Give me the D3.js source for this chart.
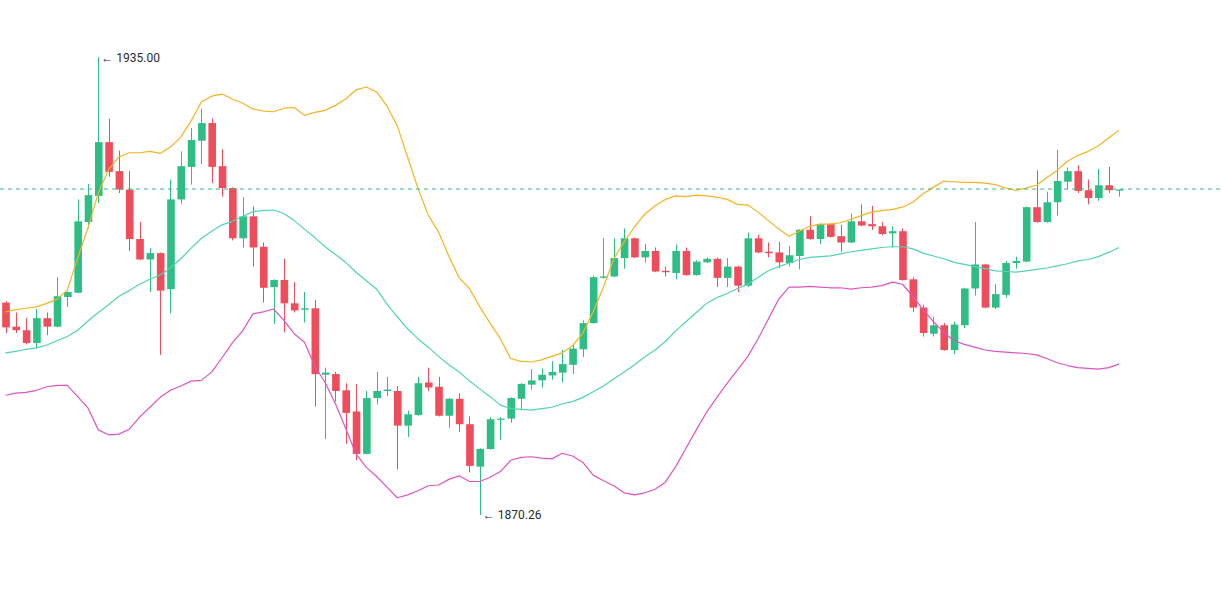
<!DOCTYPE html>
<html>
<head>
<meta charset="utf-8">
<script src="https://cdn.jsdelivr.net/npm/d3@7"></script>
<style>
  body { margin: 0; background: #fff; }
  .price-label { font-family: Roboto, "Noto Sans", sans-serif; font-size: 12px; fill: #2b2b2b; }
</style>
</head>
<body>
<div id="chart"></div>
<script>
var opens = [1900.3,1896.9,1896.4,1894.6,1898.1,1896.9,1901.1,1901.7,1911.7,1915.4,
  1923.0,1918.9,1916.3,1909.3,1906.4,1907.3,1902.2,1914.9,1919.5,1923.2,
  1925.7,1919.6,1916.5,1909.4,1912.5,1908.2,1902.5,1903.5,1900.2,1899.3,
  1899.5,1890.1,1890.2,1887.9,1884.9,1878.9,1886.8,1887.8,1887.8,1882.9,
  1884.4,1889.0,1888.4,1884.3,1886.7,1883.1,1877.1,1879.6,1883.8,1883.9,
  1886.7,1888.7,1889.3,1890.0,1890.4,1891.5,1893.7,1897.4,1903.8,1904.0,
  1906.6,1909.4,1906.7,1907.6,1904.8,1904.5,1907.6,1904.2,1906.0,1906.5,
  1903.8,1905.4,1902.7,1909.4,1907.5,1907.4,1905.9,1906.9,1910.6,1909.3,
  1911.4,1909.7,1908.8,1911.8,1911.4,1911.1,1910.1,1910.4,1903.6,1899.6,
  1895.9,1897.1,1893.6,1897.1,1902.3,1905.7,1899.6,1901.4,1905.9,1906.1,
  1913.8,1911.7,1914.5,1917.4,1918.9,1916.2,1915.1,1916.9,1916.2];

var highs = [1900.5,1898.9,1898.1,1899.4,1898.9,1903.9,1901.9,1914.9,1917.1,1935.0,
  1926.3,1921.8,1918.9,1911.7,1908.0,1907.4,1917.7,1921.7,1925.0,1927.7,
  1926.4,1922.0,1916.6,1915.2,1913.9,1908.8,1903.6,1906.5,1903.2,1901.8,
  1900.7,1891.1,1890.5,1888.9,1888.8,1887.8,1890.5,1889.8,1888.5,1885.0,
  1889.8,1891.1,1889.8,1886.8,1887.5,1884.2,1879.7,1884.1,1884.1,1886.9,
  1888.9,1890.9,1891.0,1892.0,1893.6,1894.3,1897.8,1904.1,1909.4,1909.4,
  1910.8,1909.5,1908.6,1908.1,1905.4,1908.5,1908.1,1906.3,1906.7,1906.7,
  1906.6,1905.5,1910.2,1909.9,1908.8,1908.9,1908.3,1910.7,1912.5,1911.5,
  1911.5,1911.3,1912.9,1914.2,1914.0,1911.7,1911.1,1910.8,1903.9,1900.0,
  1898.3,1897.4,1897.6,1902.4,1911.7,1905.8,1902.9,1906.2,1906.8,1913.9,
  1919.0,1916.0,1921.9,1919.4,1919.7,1917.7,1919.2,1919.5,1916.3];

var lows = [1896.0,1896.0,1894.4,1893.8,1895.7,1896.8,1899.7,1901.6,1910.8,1914.4,
  1918.1,1915.8,1907.6,1906.3,1901.8,1892.9,1898.8,1914.3,1917.0,1919.9,
  1917.2,1915.3,1909.1,1908.1,1905.4,1900.3,1897.3,1896.1,1898.9,1897.5,
  1885.6,1881.0,1886.3,1880.3,1878.0,1878.8,1885.9,1887.1,1876.7,1881.3,
  1884.3,1887.8,1884.2,1882.6,1882.0,1876.3,1870.26,1879.5,1880.9,1883.3,
  1885.1,1888.0,1888.3,1889.4,1889.0,1890.2,1892.6,1897.3,1903.7,1903.9,
  1905.1,1906.6,1906.0,1904.6,1904.0,1903.6,1904.1,1904.1,1905.9,1902.5,
  1902.5,1901.8,1902.5,1907.3,1906.7,1905.2,1905.4,1905.0,1909.2,1908.6,
  1909.5,1907.5,1908.7,1911.1,1910.6,1909.8,1908.1,1903.4,1899.0,1895.5,
  1895.5,1893.5,1893.0,1896.7,1901.3,1899.5,1899.4,1901.0,1905.1,1906.0,
  1911.6,1911.6,1912.6,1916.3,1915.8,1914.2,1914.7,1915.8,1915.3];

var closes = [1896.8,1896.4,1894.6,1898.1,1896.9,1901.2,1901.8,1911.8,1915.5,1923.0,
  1918.8,1916.3,1909.3,1906.4,1907.3,1902.0,1914.9,1919.6,1923.3,1925.7,
  1919.5,1916.5,1909.4,1912.5,1908.1,1902.4,1903.5,1900.2,1899.2,1899.5,
  1890.2,1890.4,1887.8,1884.7,1878.9,1886.8,1887.8,1888.0,1882.9,1884.5,
  1888.9,1888.3,1884.3,1886.7,1883.1,1877.2,1879.6,1883.8,1883.9,1886.8,
  1888.8,1889.3,1890.1,1890.5,1891.6,1893.8,1897.4,1903.9,1904.0,1906.6,
  1909.4,1906.7,1907.6,1904.7,1904.6,1907.6,1904.2,1906.1,1906.5,1903.8,
  1905.4,1902.7,1909.4,1907.4,1907.3,1906.0,1907.0,1910.6,1909.3,1911.4,
  1909.6,1908.8,1911.8,1911.2,1911.1,1910.0,1910.4,1903.5,1899.6,1896.0,
  1897.1,1893.6,1897.2,1902.3,1905.7,1899.6,1901.5,1905.9,1906.2,1913.8,
  1911.7,1914.5,1917.5,1918.9,1916.1,1915.1,1916.9,1916.2,1916.3];

// Bollinger bands (upper / middle / lower)
var bollUpper = [1899.0,1899.3,1899.5,1899.7,1900.2,1900.8,1902.1,1906.6,1910.9,1915.8,
  1919.1,1920.9,1921.5,1921.5,1921.7,1921.4,1922.3,1923.7,1926.0,1928.7,
  1929.5,1929.8,1929.1,1928.5,1927.7,1927.4,1927.3,1927.8,1927.9,1926.8,
  1927.2,1927.5,1928.2,1929.1,1930.4,1930.8,1930.1,1928.1,1925.3,1920.9,
  1916.5,1912.7,1910.3,1906.9,1903.8,1902.3,1899.7,1897.4,1895.2,1892.4,
  1892.0,1891.9,1892.2,1892.7,1893.2,1894.2,1896.0,1899.0,1902.5,1906.5,
  1908.9,1911.0,1912.8,1914.0,1914.9,1915.4,1915.3,1915.5,1915.4,1915.2,
  1914.9,1914.2,1914.1,1913.1,1911.9,1910.7,1909.7,1910.4,1911.1,1911.4,
  1911.4,1911.6,1912.1,1912.6,1913.1,1913.3,1913.5,1913.8,1914.5,1915.7,
  1916.6,1917.5,1917.4,1917.3,1917.3,1917.2,1917.0,1916.5,1916.2,1916.5,
  1916.9,1918.0,1919.0,1920.3,1921.1,1921.7,1922.5,1923.6,1924.7];

var bollMiddle = [1893.2,1893.4,1893.7,1893.9,1894.3,1894.9,1895.5,1896.4,1897.7,1898.9,
  1900.0,1901.2,1902.0,1902.9,1903.6,1904.2,1905.2,1906.5,1908.0,1909.4,
  1910.4,1911.3,1911.8,1912.5,1913.2,1913.3,1913.4,1912.9,1911.9,1910.7,
  1909.5,1908.2,1907.1,1906.0,1904.6,1903.4,1902.2,1900.1,1898.3,1896.6,
  1895.2,1894.0,1892.7,1891.5,1890.5,1889.2,1888.1,1887.0,1885.8,1885.3,
  1885.2,1885.1,1885.3,1885.5,1886.0,1886.3,1886.9,1887.7,1888.5,1889.5,
  1890.5,1891.5,1892.6,1893.6,1894.8,1896.3,1897.6,1898.9,1900.2,1901.0,
  1901.6,1902.3,1902.9,1903.9,1904.8,1905.4,1905.9,1906.4,1906.7,1906.8,
  1906.9,1907.2,1907.5,1907.7,1907.9,1908.1,1908.2,1908.2,1907.9,1907.3,
  1906.9,1906.5,1906.0,1905.7,1905.4,1905.1,1904.8,1904.7,1904.6,1904.8,
  1905.0,1905.2,1905.5,1905.8,1906.2,1906.4,1906.8,1907.4,1908.1];

var bollLower = [1887.2,1887.5,1887.6,1887.9,1888.4,1888.6,1888.6,1887.0,1885.4,1882.3,
  1881.6,1881.7,1882.4,1884.1,1885.5,1886.9,1887.9,1888.5,1889.2,1889.3,
  1890.5,1892.5,1894.6,1896.3,1898.7,1899.0,1899.4,1897.8,1895.9,1894.7,
  1891.3,1889.0,1886.0,1882.5,1878.9,1877.0,1875.7,1874.2,1872.7,1873.1,
  1873.7,1874.4,1874.5,1875.3,1875.8,1875.0,1875.0,1875.6,1876.4,1878.0,
  1878.4,1878.5,1878.3,1878.2,1879.0,1878.6,1877.7,1875.9,1875.1,1874.4,
  1873.4,1873.1,1873.4,1873.9,1874.9,1877.1,1879.7,1882.3,1884.8,1886.9,
  1888.9,1890.8,1892.7,1895.2,1898.0,1900.8,1902.5,1902.5,1902.6,1902.5,
  1902.4,1902.4,1902.2,1902.4,1902.5,1902.7,1903.2,1902.9,1901.2,1899.3,
  1897.6,1896.1,1894.9,1894.4,1894.0,1893.6,1893.4,1893.3,1893.2,1893.1,
  1892.9,1892.4,1891.8,1891.4,1891.1,1891.0,1890.9,1891.1,1891.6];

var width = 1221;
var height = 598;
var firstX = 5.5;
var lastX = 1119;
var plotTop = 57.3;
var plotBottom = 515;
var bodyWidth = 7.6;

var upColor = "#2ebd85";
var downColor = "#ef4d5c";
var upperColor = "#f5b322";
var middleColor = "#52d3b2";
var lowerColor = "#dc55c4";

var data = opens.map(function (o, i) {
  return { i: i, open: o, high: highs[i], low: lows[i], close: closes[i] };
});

/* Scale */
var xScale = d3.scaleLinear()
  .domain([0, data.length - 1])
  .range([firstX, lastX]);

var yScale = d3.scaleLinear()
  .domain([d3.min(lows), d3.max(highs)])
  .range([plotBottom, plotTop]);

var colorOf = d => d.close >= d.open ? upColor : downColor;

/* Add SVG */
var svg = d3.select("#chart").append("svg")
  .attr("width", width)
  .attr("height", height)
  .style("display", "block");

/* Candles */
var candles = svg.append("g").attr("class", "candles")
  .selectAll("g")
  .data(data).enter()
  .append("g");

candles.append("line")
  .attr("x1", d => Math.round(xScale(d.i)) + 0.5)
  .attr("x2", d => Math.round(xScale(d.i)) + 0.5)
  .attr("y1", d => yScale(d.high))
  .attr("y2", d => yScale(d.low))
  .style("stroke", colorOf)
  .style("stroke-width", 1);

candles.append("rect")
  .attr("x", d => xScale(d.i) - bodyWidth / 2 + 0.5)
  .attr("y", d => yScale(Math.max(d.open, d.close)))
  .attr("width", bodyWidth)
  .attr("height", d => Math.max(1.2, Math.abs(yScale(d.open) - yScale(d.close))))
  .style("fill", colorOf);

/* Bollinger lines */
var line = d3.line()
  .x((d, i) => xScale(i))
  .y(d => yScale(d));

[[bollUpper, upperColor], [bollMiddle, middleColor], [bollLower, lowerColor]].forEach(function (b) {
  svg.append("path")
    .attr("d", line(b[0]))
    .style("fill", "none")
    .style("stroke", b[1])
    .style("stroke-width", 1.2)
    .style("stroke-linejoin", "round");
});

/* Last price line */
var last = data[data.length - 1];
var lastY = Math.round(yScale(last.close)) - 1;
svg.append("line")
  .attr("x1", 0)
  .attr("x2", width)
  .attr("y1", lastY)
  .attr("y2", lastY)
  .style("stroke", colorOf(last))
  .style("stroke-width", 1.2)
  .style("stroke-dasharray", "4,4");

/* High / low markers */
var hi = data[d3.maxIndex(highs)];
var lo = data[d3.minIndex(lows)];

svg.append("text")
  .attr("class", "price-label")
  .attr("x", xScale(hi.i) + 3)
  .attr("y", yScale(hi.high))
  .attr("dy", "0.35em")
  .text("\u2190 " + hi.high.toFixed(2));

svg.append("text")
  .attr("class", "price-label")
  .attr("x", xScale(lo.i) + 3)
  .attr("y", yScale(lo.low))
  .attr("dy", "0.35em")
  .text("\u2190 " + lo.low.toFixed(2));
</script>
</body>
</html>
